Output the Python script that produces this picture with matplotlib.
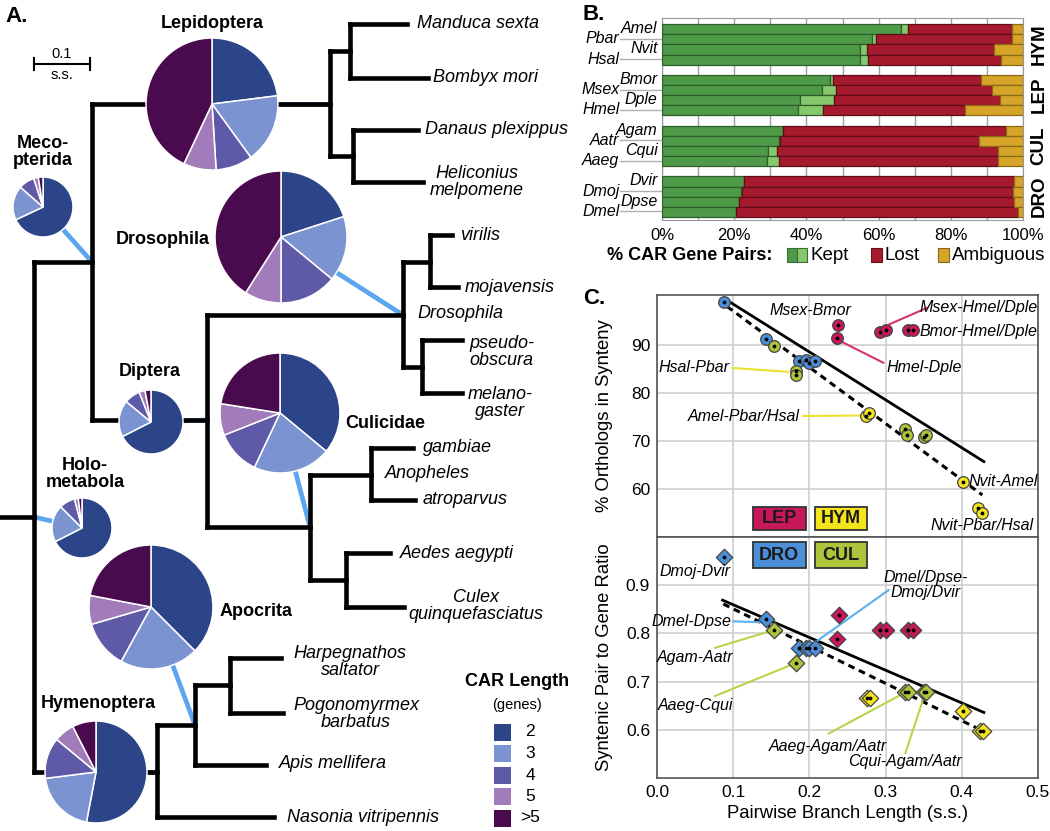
import matplotlib

matplotlib.use("Agg")
import matplotlib.pyplot as plt
import numpy as np
from matplotlib.patches import Rectangle

plt.rcParams["font.family"] = ["Liberation Sans", "DejaVu Sans"]

W, H = 1050, 831

# ---------------- panel A data ----------------
car_labels = ["2", "3", "4", "5", ">5"]
car_colors = ["#2c4488", "#7b93d0", "#5f5aa8", "#a27cba", "#4a0a4e"]

# tree layout (pixel positions of nodes)
tree_pos = {
    "origin": (0, 517), "root": (34, 517),
    "meco": (92, 262), "lep": (330, 104), "lep1": (350, 51), "lep2": (353, 156),
    "Manduca": (407, 24), "Bombyx": (428, 78), "Danaus": (418, 130), "Heliconius": (423, 182),
    "dipt": (207, 420), "dros": (403, 315), "dros1": (430, 262), "dros2": (422, 367),
    "virilis": (452, 235), "mojavensis": (458, 287), "pseudo": (462, 340), "melano": (462, 393),
    "cul": (310, 527), "anoph": (371, 475), "cul2": (346, 580),
    "gambiae": (413, 448), "atroparvus": (415, 500), "Aedes": (390, 553), "Culex": (404, 607),
    "hym": (157, 772), "apoc": (195, 725), "hym1": (230, 685),
    "Harpeg": (281, 658), "Pogono": (283, 713), "Apis": (266, 765), "Nasonia": (274, 817),
}
tree_children = {
    "origin": ["root"], "root": ["meco", "hym"],
    "meco": ["lep", "dipt"], "lep": ["lep1", "lep2"],
    "lep1": ["Manduca", "Bombyx"], "lep2": ["Danaus", "Heliconius"],
    "dipt": ["dros", "cul"], "dros": ["dros1", "dros2"],
    "dros1": ["virilis", "mojavensis"], "dros2": ["pseudo", "melano"],
    "cul": ["anoph", "cul2"], "anoph": ["gambiae", "atroparvus"], "cul2": ["Aedes", "Culex"],
    "hym": ["apoc", "Nasonia"], "apoc": ["hym1", "Apis"], "hym1": ["Harpeg", "Pogono"],
}
leaf_text = [
    ("Manduca sexta", 417, 24, "left"), ("Bombyx mori", 433, 78, "left"),
    ("Danaus plexippus", 425, 130, "left"), ("Heliconius\nmelpomene", 477, 182, "center"),
    ("virilis", 460, 235, "left"), ("mojavensis", 465, 287, "left"),
    ("Drosophila", 417, 313, "left"), ("pseudo-\nobscura", 469, 352, "left"),
    ("melano-\ngaster", 500, 403, "center"), ("gambiae", 423, 448, "left"),
    ("Anopheles", 385, 473, "left"), ("atroparvus", 423, 500, "left"),
    ("Aedes aegypti", 400, 553, "left"), ("Culex\nquinquefasciatus", 476, 606, "center"),
    ("Harpegnathos\nsaltator", 350, 662, "center"), ("Pogonomyrmex\nbarbatus", 356, 714, "center"),
    ("Apis mellifera", 279, 763, "left"), ("Nasonia vitripennis", 287, 817, "left"),
]
# clade pies: name, label position, centre, radius, node, fractions (2,3,4,5,>5)
pie_names = ["Lepidoptera", "Meco-\npterida", "Drosophila", "Diptera", "Culicidae",
             "Holo-\nmetabola", "Apocrita", "Hymenoptera"]
pie_label_xy = [(212, 24), (43, 152), (163, 240), (150, 372), (385, 423),
                (85, 474), (256, 611), (98, 704)]
pie_centers = [(212, 104), (43, 207), (281, 237), (151, 422), (280, 413),
               (82, 528), (151, 607), (96, 772)]
pie_radius = [66, 30, 66, 32, 60, 30, 62, 51]
pie_node = ["lep", "meco", "dros", "dipt", "cul", "root", "apoc", "hym"]
pie_fracs = [
    [23, 17, 9, 8, 43],
    [68, 18.5, 8.5, 2.5, 2.5],
    [20, 16, 14, 9, 41],
    [67.5, 18.5, 8, 3, 3],
    [36, 21, 12, 8.5, 22.5],
    [67.5, 20, 8.5, 2, 2],
    [37.5, 20.5, 12.5, 7.5, 22],
    [53, 20, 13, 6.5, 7.5],
]

# ---------------- panel B data ----------------
groups = ["HYM", "LEP", "CUL", "DRO"]
pair_right = [("Amel", "Nvit"), ("Bmor", "Dple"), ("Agam", "Cqui"), ("Dvir", "Dpse")]
pair_left = [("Pbar", "Hsal"), ("Msex", "Hmel"), ("Aatr", "Aaeg"), ("Dmoj", "Dmel")]
kept_dark = [66.2, 58.1, 54.8, 54.8, 46.4, 44.4, 38.1, 37.8,
             33.5, 32.4, 29.5, 29.2, 22.6, 21.9, 21.2, 20.4]
kept_light = [2.0, 1.3, 1.9, 2.3, 1.1, 3.7, 9.5, 6.7,
              0.1, 0.4, 2.3, 3.3, 0.2, 0.2, 0.2, 0.2]
lost = [28.8, 37.6, 35.3, 36.9, 40.8, 43.3, 45.9, 39.4,
        61.8, 55.0, 61.3, 60.6, 74.7, 75.1, 76.0, 78.0]
ambiguous = [3.0, 3.0, 8.0, 6.0, 11.7, 8.6, 6.5, 16.1,
             4.6, 12.2, 6.9, 6.9, 2.5, 2.8, 2.6, 1.4]

# ---------------- panel C data ----------------
clade_colors = {"LEP": "#c8175a", "HYM": "#f3e41d", "DRO": "#4b8fd9", "CUL": "#adc53a"}
top_x = {
    "DRO": [0.088, 0.143, 0.186, 0.196, 0.200, 0.208],
    "CUL": [0.153, 0.182, 0.182, 0.326, 0.328, 0.350, 0.353],
    "HYM": [0.274, 0.278, 0.402, 0.421, 0.427],
    "LEP": [0.238, 0.236, 0.293, 0.301, 0.329, 0.336],
}
top_y = {
    "DRO": [98.9, 91.2, 86.7, 86.9, 86.3, 86.6],
    "CUL": [89.8, 84.5, 83.8, 72.5, 71.2, 70.8, 71.3],
    "HYM": [75.1, 75.8, 61.5, 56.0, 54.9],
    "LEP": [94.2, 91.4, 92.6, 93.1, 93.1, 93.1],
}
bot_x = {
    "DRO": [0.088, 0.143, 0.186, 0.196, 0.200, 0.208],
    "CUL": [0.153, 0.182, 0.326, 0.329, 0.350, 0.353],
    "HYM": [0.275, 0.279, 0.402, 0.424, 0.428],
    "LEP": [0.239, 0.236, 0.293, 0.301, 0.329, 0.336],
}
bot_y = {
    "DRO": [0.959, 0.829, 0.769, 0.769, 0.769, 0.769],
    "CUL": [0.808, 0.738, 0.678, 0.678, 0.678, 0.678],
    "HYM": [0.667, 0.667, 0.638, 0.598, 0.598],
    "LEP": [0.838, 0.788, 0.808, 0.808, 0.808, 0.808],
}
top_fit_solid = ([0.088, 0.429], [99.7, 65.7])
top_fit_dash = ([0.092, 0.427], [98.0, 58.75])
bot_fit_solid = ([0.086, 0.429], [0.869, 0.636])
bot_fit_dash = ([0.087, 0.427], [0.861, 0.598])

# ---------------- figure ----------------
fig = plt.figure(figsize=(W / 100, H / 100), dpi=100)
ov = fig.add_axes([0, 0, 1, 1])
ov.patch.set_visible(False)

LINE = dict(color="black", lw=3.3, solid_capstyle="projecting", zorder=2)
for parent, kids in tree_children.items():
    px, py = tree_pos[parent]
    ys = [tree_pos[k][1] for k in kids]
    if max(ys) > min(ys):
        ov.plot([px, px], [min(ys), max(ys)], **LINE)
    for k in kids:
        kx, ky = tree_pos[k]
        ov.plot([px, kx], [ky, ky], **LINE)

for name, (lx, ly), (cx, cy), r, node, fr in zip(
    pie_names, pie_label_xy, pie_centers, pie_radius, pie_node, pie_fracs
):
    nx, ny = tree_pos[node]
    ov.plot([cx, nx], [cy, ny], color="#5ba6ee", lw=3.4, zorder=1, solid_capstyle="butt")
    ov.pie(fr, colors=car_colors, center=(cx, cy), radius=r, startangle=-90,
           counterclock=True, frame=True,
           wedgeprops=dict(edgecolor="white", linewidth=1.1, zorder=3))
    ov.text(lx, ly, name, ha="center", va="center", fontsize=13,
            fontweight="bold", linespacing=0.95, zorder=4)

for txt, x, y, ha in leaf_text:
    ov.text(x, y, txt, ha=ha, va="center", fontsize=13, style="italic",
            linespacing=0.95, multialignment="center", zorder=4)

# scale bar
ov.plot([34, 90], [64, 64], color="black", lw=1.5)
ov.plot([34, 34], [58, 70], color="black", lw=1.5)
ov.plot([90, 90], [58, 70], color="black", lw=1.5)
ov.text(62, 54, "0.1", ha="center", va="center", fontsize=10.5)
ov.text(62, 75, "s.s.", ha="center", va="center", fontsize=10.5)

# legend for CAR length
ov.text(517, 682, "CAR Length", ha="center", va="center", fontsize=13, fontweight="bold")
ov.text(517, 705, "(genes)", ha="center", va="center", fontsize=10.5)
for i, (lab, col) in enumerate(zip(car_labels, car_colors)):
    yc = 732 + i * 21.5
    ov.add_patch(Rectangle((494, yc - 8.5), 17, 17, facecolor=col, edgecolor="none"))
    ov.text(530, yc, lab, ha="center", va="center", fontsize=12.5)

# panel letters
ov.text(5, 16, "A.", fontsize=16, fontweight="bold", va="center", ha="left")
ov.text(583, 15, "B.", fontsize=16, fontweight="bold", va="center", ha="left")
ov.text(583, 298, "C.", fontsize=16, fontweight="bold", va="center", ha="left")

# legend of panel B
ov.text(607, 255, "% CAR Gene Pairs:", ha="left", va="center", fontsize=13, fontweight="bold")
ov.add_patch(Rectangle((787, 248), 10, 14, facecolor="#4e9a48", edgecolor="#3a6e36", lw=0.8))
ov.add_patch(Rectangle((797, 248), 10, 14, facecolor="#86c86c", edgecolor="#3a6e36", lw=0.8))
ov.text(810, 255, "Kept", ha="left", va="center", fontsize=13.5)
ov.add_patch(Rectangle((871, 248), 11, 14, facecolor="#a51a2c", edgecolor="#6d101c", lw=0.8))
ov.text(885, 255, "Lost", ha="left", va="center", fontsize=13.5)
ov.add_patch(Rectangle((938, 248), 11, 14, facecolor="#d6a428", edgecolor="#8a6a18", lw=0.8))
ov.text(952, 255, "Ambiguous", ha="left", va="center", fontsize=13.5)

ov.set_xlim(0, W)
ov.set_ylim(H, 0)
ov.set_aspect("equal")
ov.axis("off")

# ---------------- panel B ----------------
axb = fig.add_axes([662 / W, 1 - 220 / H, 361 / W, 202 / H])
ypos = [g * 5 + i for g in range(4) for i in range(4)]
left = np.zeros(16)
for vals, col, ec in [
    (kept_dark, "#4e9a48", "#2f5e2c"),
    (kept_light, "#86c86c", "#2f5e2c"),
    (lost, "#a51a2c", "#5e0e18"),
    (ambiguous, "#d6a428", "#8a6a18"),
]:
    axb.barh(ypos, vals, left=left, height=1.0, color=col, edgecolor=ec, linewidth=0.9, zorder=3)
    left += np.array(vals)
axb.set_xlim(0, 100)
axb.set_ylim(18.8, -1.1)
axb.set_xticks(np.arange(0, 101, 20))
axb.set_xticklabels([f"{v}%" for v in range(0, 101, 20)], fontsize=12)
axb.set_xticks(np.arange(0, 101, 10), minor=True)
axb.grid(True, axis="x", which="both", color="#a0a0a0", lw=1.0, zorder=0)
axb.set_yticks([])
axb.tick_params(axis="x", length=0, pad=6)
axb.tick_params(axis="x", which="minor", length=0)
for s in axb.spines.values():
    s.set_color("#999999")
tr = axb.get_yaxis_transform()
for g in range(4):
    axb.text(1.045, g * 5 + 1.5, groups[g], transform=tr, rotation=90, ha="center",
             va="center", fontsize=13.5, fontweight="bold")
    for j in range(2):
        yr = g * 5 + 2 * j - 0.05
        yl = g * 5 + 2 * j + 0.95
        axb.text(-0.012, yr, pair_right[g][j], transform=tr, ha="right", va="center",
                 fontsize=11.5, style="italic", clip_on=False)
        axb.text(-0.118, yl, pair_left[g][j], transform=tr, ha="right", va="center",
                 fontsize=11.5, style="italic", clip_on=False)
        axb.plot([-0.115, 0], [yl, yl], transform=tr, color="#b0b0b0", lw=1.0, clip_on=False)

# ---------------- panel C ----------------
axt = fig.add_axes([657 / W, 1 - 537 / H, 381 / W, 242 / H])
axc = fig.add_axes([657 / W, 1 - 778 / H, 381 / W, 241 / H], sharex=axt)


def scatter(ax, xs, ys, marker):
    for key in ["DRO", "CUL", "HYM", "LEP"]:
        ax.scatter(xs[key], ys[key], s=70, marker=marker, color=clade_colors[key],
                   edgecolor="#444444", linewidth=0.9, zorder=4)
        ax.scatter(xs[key], ys[key], s=3, color="black", zorder=5)


for ax, fs, fd in [(axt, top_fit_solid, top_fit_dash), (axc, bot_fit_solid, bot_fit_dash)]:
    ax.plot(*fs, color="black", lw=2.0, zorder=3)
    ax.plot(*fd, color="black", lw=2.2, ls=(0, (2.2, 1.6)), zorder=3)
    ax.grid(True, color="#cfcfcf", lw=1.2, zorder=0)
    ax.tick_params(length=0, labelsize=12.5, pad=5)
    for s in ax.spines.values():
        s.set_color("#555555")
        s.set_linewidth(1.2)

scatter(axt, top_x, top_y, "o")
scatter(axc, bot_x, bot_y, "D")

axt.set_xlim(0, 0.5)
axt.set_ylim(50, 100.4)
axt.set_yticks([60, 70, 80, 90])
axt.tick_params(axis="x", labelbottom=False)
axc.set_ylim(0.5, 1.0)
axc.set_yticks([0.6, 0.7, 0.8, 0.9])
axc.set_yticklabels(["0.6", "0.7", "0.8", "0.9"])
axc.set_xticks([0.0, 0.1, 0.2, 0.3, 0.4, 0.5])
axc.set_xticklabels(["0.0", "0.1", "0.2", "0.3", "0.4", "0.5"])
axt.set_ylabel("% Orthologs in Synteny", fontsize=13.3)
axc.set_ylabel("Syntenic Pair to Gene Ratio", fontsize=13.3)
axc.set_xlabel("Pairwise Branch Length (s.s.)", fontsize=13.3, labelpad=4)
axt.yaxis.set_label_coords(-0.115, 0.5)
axc.yaxis.set_label_coords(-0.115, 0.5)

ITAL = dict(fontsize=11.5, style="italic", va="center", zorder=6)


def callout(ax, text, xy_text, xy_line_start, xy_point, color, ha="center"):
    ax.text(*xy_text, text, ha=ha, linespacing=1.0, **ITAL)
    if xy_point is not None:
        ax.plot([xy_line_start[0], xy_point[0]], [xy_line_start[1], xy_point[1]],
                color=color, lw=1.5, zorder=3)


lep_c, hym_c, dro_c, cul_c = "#d9336d", "#efe030", "#5ab0f0", "#bbd24a"
callout(axt, "Msex-Bmor", (0.201, 97.1), None, None, lep_c)
callout(axt, "Msex-Hmel/Dple", (0.422, 97.9), (0.354, 97.7), (0.305, 94.3), lep_c)
callout(axt, "Bmor-Hmel/Dple", (0.422, 92.9), None, None, lep_c)
callout(axt, "Hmel-Dple", (0.35, 85.2), (0.297, 86.3), (0.238, 91.0), lep_c)
callout(axt, "Hsal-Pbar", (0.095, 85.2), (0.099, 85.2), (0.172, 84.4), hym_c, ha="right")
callout(axt, "Amel-Pbar/Hsal", (0.187, 75.1), (0.192, 75.2), (0.270, 75.3), hym_c, ha="right")
callout(axt, "Nvit-Amel", (0.454, 61.5), None, None, hym_c)
callout(axt, "Nvit-Pbar/Hsal", (0.427, 52.4), None, None, hym_c)

callout(axc, "Dmoj-Dvir", (0.05, 0.929), None, None, dro_c)
callout(axc, "Dmel/Dpse-\nDmoj/Dvir", (0.353, 0.90), (0.304, 0.890), (0.208, 0.782), dro_c)
callout(axc, "Dmel-Dpse", (0.098, 0.825), (0.100, 0.825), (0.138, 0.823), dro_c, ha="right")
callout(axc, "Agam-Aatr", (0.05, 0.749), (0.076, 0.770), (0.145, 0.803), cul_c)
callout(axc, "Aaeg-Cqui", (0.05, 0.650), (0.076, 0.670), (0.175, 0.734), cul_c)
callout(axc, "Aaeg-Agam/Aatr", (0.224, 0.565), (0.225, 0.592), (0.324, 0.676), cul_c)
callout(axc, "Cqui-Agam/Aatr", (0.326, 0.534), (0.326, 0.552), (0.349, 0.662), cul_c)

# clade key boxes
for ax, keys, y0, y1 in [(axt, ["LEP", "HYM"], 51.5, 56.25), (axc, ["DRO", "CUL"], 0.935, 0.989)]:
    for key, x0 in zip(keys, [0.126, 0.207]):
        ax.add_patch(Rectangle((x0, y0), 0.069, y1 - y0, facecolor=clade_colors[key],
                               edgecolor="#333333", lw=1.3, zorder=6))
        ax.text(x0 + 0.0345, (y0 + y1) / 2, key, ha="center", va="center",
                fontsize=13, fontweight="bold", color="#1a1a1a", zorder=7)

fig.savefig("out.png", dpi=100)
